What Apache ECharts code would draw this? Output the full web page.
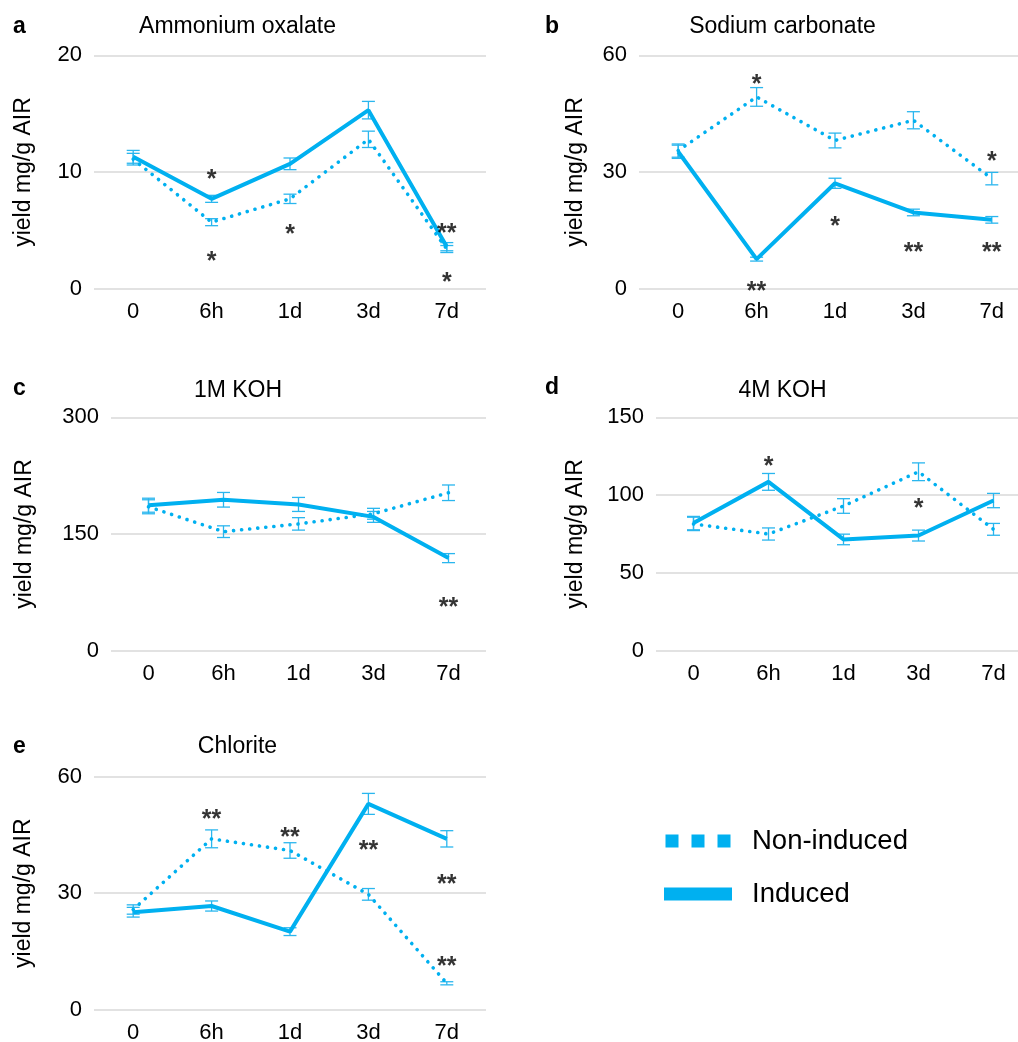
<!DOCTYPE html>
<html><head><meta charset="utf-8">
<script src="https://cdn.jsdelivr.net/npm/echarts@6/dist/echarts.min.js"></script>
<style>html,body{margin:0;padding:0;background:#fff}#c{width:1018px;height:1042px}</style>
</head><body><div id="c"></div>
<script>
// ---------- data ----------
const categories = ['0', '6h', '1d', '3d', '7d'];
const seriesNames = ['Non-induced', 'Induced'];

const aTitle = 'Ammonium oxalate';
const aTicks = [0, 20, 10];
const aInduced = [11.3, 7.7, 10.7, 15.3, 3.6];
const aInducedErr = [0.55, 0.3, 0.5, 0.75, 0.35];
const aNon = [11.1, 5.7, 7.7, 12.8, 3.4];
const aNonErr = [0.5, 0.3, 0.4, 0.7, 0.3];
const aStars = [[1, 9.7, '*'], [1, 2.7, '*'], [2, 5.0, '*'], [4, 5.1, '**'], [4, 0.9, '*']];

const bTitle = 'Sodium carbonate';
const bTicks = [0, 60, 30];
const bInduced = [35.2, 7.6, 27.1, 19.6, 17.7];
const bInducedErr = [1.7, 0.5, 1.3, 0.85, 0.85];
const bNon = [35.5, 49.3, 38.1, 43.3, 28.3];
const bNonErr = [1.7, 2.4, 1.9, 2.2, 1.6];
const bStars = [[1, 53.7, '*'], [1, 0.5, '**'], [2, 17.2, '*'], [3, 10.4, '**'], [4, 33.9, '*'], [4, 10.4, '**']];

const cTitle = '1M KOH';
const cTicks = [0, 300, 150];
const cInduced = [187, 194, 188, 172, 119];
const cInducedErr = [9, 9.4, 9, 7, 5.8];
const cNon = [185, 153, 163, 176, 203];
const cNonErr = [9, 7.5, 8, 7, 10];
const cStars = [[4, 61.7, '**']];

const dTitle = '4M KOH';
const dTicks = [0, 150, 50];
const dInduced = [82, 108.5, 71.5, 74, 96.5];
const dInducedErr = [4.3, 5.4, 3.4, 3.5, 4.6];
const dNon = [81.5, 75, 93, 115, 78];
const dNonErr = [4.3, 3.9, 4.7, 5.7, 3.8];
const dStars = [[1, 121.5, '*'], [3, 94.3, '*']];

const eTitle = 'Chlorite';
const eTicks = [0, 60, 30];
const eInduced = [25.1, 26.7, 20.1, 53, 44];
const eInducedErr = [1.25, 1.3, 1.0, 2.7, 2.1];
const eNon = [25.8, 44, 41, 29.7, 6.8];
const eNonErr = [1.2, 2.3, 2, 1.5, 0.4];
const eStars = [[1, 50, '**'], [2, 45.6, '**'], [3, 42.2, '**'], [4, 33.4, '**'], [4, 12.3, '**']];

const yName = 'yield mg/g AIR';
const panelLetters = ['a', 'b', 'c', 'd', 'e'];

// ---------- layout / style ----------
const FONT = '"Liberation Sans", Arial, Helvetica, sans-serif';
const BLUE = '#00B0F0';
const ERR = '#2ab6ee';
const panels = [
  {letter: panelLetters[0], title: aTitle, ticks: aTicks, ind: aInduced, indE: aInducedErr, non: aNon, nonE: aNonErr, stars: aStars,
   grid: {left: 94, top: 55.3, width: 392, height: 233.4}, nameGap: 59, letterPos: [13, 27], titlePos: [237.5, 27]},
  {letter: panelLetters[1], title: bTitle, ticks: bTicks, ind: bInduced, indE: bInducedErr, non: bNon, nonE: bNonErr, stars: bStars,
   grid: {left: 639, top: 55.3, width: 392, height: 233.4}, nameGap: 52, letterPos: [545, 27], titlePos: [782.5, 27]},
  {letter: panelLetters[2], title: cTitle, ticks: cTicks, ind: cInduced, indE: cInducedErr, non: cNon, nonE: cNonErr, stars: cStars,
   grid: {left: 111, top: 417.3, width: 375, height: 233.4}, nameGap: 75, letterPos: [13, 389], titlePos: [238, 391]},
  {letter: panelLetters[3], title: dTitle, ticks: dTicks, ind: dInduced, indE: dInducedErr, non: dNon, nonE: dNonErr, stars: dStars,
   grid: {left: 656, top: 417.3, width: 375, height: 233.4}, nameGap: 69, letterPos: [545, 388], titlePos: [782.5, 391]},
  {letter: panelLetters[4], title: eTitle, ticks: eTicks, ind: eInduced, indE: eInducedErr, non: eNon, nonE: eNonErr, stars: eStars,
   grid: {left: 94, top: 776.7, width: 392, height: 233}, nameGap: 59, letterPos: [13, 747], titlePos: [237.5, 747]}
];

function errRender(params, api) {
  const x = api.value(0), lo = api.value(1), hi = api.value(2);
  const p1 = api.coord([x, lo]), p2 = api.coord([x, hi]);
  const w = 6.5;
  const style = {stroke: ERR, lineWidth: 1.3, fill: null};
  return {type: 'group', children: [
    {type: 'line', shape: {x1: p1[0], y1: p1[1], x2: p2[0], y2: p2[1]}, style: style},
    {type: 'line', shape: {x1: p1[0] - w, y1: p1[1], x2: p1[0] + w, y2: p1[1]}, style: style},
    {type: 'line', shape: {x1: p2[0] - w, y1: p2[1], x2: p2[0] + w, y2: p2[1]}, style: style}
  ]};
}

const grids = [], xAxes = [], yAxes = [], series = [], graphics = [];
panels.forEach((p, k) => {
  grids.push(Object.assign({outerBoundsMode: 'none', containLabel: false}, p.grid));
  xAxes.push({type: 'category', gridIndex: k, data: categories, boundaryGap: true,
    axisLine: {show: false}, axisTick: {show: false},
    axisLabel: {fontFamily: FONT, fontSize: 22, color: '#000', margin: 12}});
  yAxes.push({type: 'value', gridIndex: k, min: p.ticks[0], max: p.ticks[1], interval: p.ticks[2],
    axisLine: {show: false}, axisTick: {show: false},
    axisLabel: {fontFamily: FONT, fontSize: 22, color: '#000', margin: 12},
    splitLine: {lineStyle: {color: '#d9d9d9', width: 1.5}},
    name: yName, nameLocation: 'middle', nameGap: p.nameGap, nameRotate: 90,
    nameTextStyle: {fontFamily: FONT, fontSize: 23, color: '#000'}});
  const errData = (v, e) => v.map((val, i) => [i, val - e[i], val + e[i]]);
  series.push({type: 'custom', name: 'errNon' + k, xAxisIndex: k, yAxisIndex: k, renderItem: errRender,
    data: errData(p.non, p.nonE), encode: {x: 0, y: [1, 2]}, z: 3, silent: true});
  series.push({type: 'custom', name: 'errInd' + k, xAxisIndex: k, yAxisIndex: k, renderItem: errRender,
    data: errData(p.ind, p.indE), encode: {x: 0, y: [1, 2]}, z: 3, silent: true});
  series.push({type: 'line', name: seriesNames[0], xAxisIndex: k, yAxisIndex: k, data: p.non, symbol: 'none',
    lineStyle: {color: BLUE, width: 3.6, type: [0.1, 8], cap: 'round'}, itemStyle: {color: BLUE}, z: 4});
  series.push({type: 'line', name: seriesNames[1], xAxisIndex: k, yAxisIndex: k, data: p.ind, symbol: 'none',
    lineStyle: {color: BLUE, width: 4}, itemStyle: {color: BLUE}, z: 5});
  series.push({type: 'scatter', name: 'stars' + k, xAxisIndex: k, yAxisIndex: k, data: p.stars,
    symbolSize: 1, itemStyle: {color: 'rgba(0,0,0,0)'}, silent: true, z: 6,
    label: {show: true, position: 'inside', formatter: (q) => q.data[2], fontFamily: FONT, fontSize: 25,
      fontWeight: 'bold', color: '#000', offset: [0, 5]}});
  graphics.push({type: 'text', x: p.letterPos[0], y: p.letterPos[1],
    style: {text: p.letter, font: 'bold 23px ' + FONT, fill: '#000', textAlign: 'left', textVerticalAlign: 'middle'}});
  graphics.push({type: 'text', x: p.titlePos[0], y: p.titlePos[1],
    style: {text: p.title, font: '23px ' + FONT, fill: '#000', textAlign: 'center', textVerticalAlign: 'middle'}});
});

const chart = echarts.init(document.getElementById('c'), null, {renderer: 'canvas'});
chart.setOption({
  backgroundColor: '#fff',
  animation: false,
  grid: grids, xAxis: xAxes, yAxis: yAxes, series: series, graphic: graphics,
  legend: {
    orient: 'vertical', left: 659, top: 821, itemWidth: 68, itemHeight: 13, itemGap: 23,
    selectedMode: false,
    data: [
      {name: seriesNames[0], icon: 'path://M0,0h1v1h-1z M2,0h1v1h-1z M4,0h1v1h-1z'},
      {name: seriesNames[1], icon: 'rect'}
    ],
    itemStyle: {color: BLUE},
    textStyle: {fontFamily: FONT, fontSize: 27.5, color: '#000', lineHeight: 30, padding: [0, 0, 0, 15]}
  }
});
</script></body></html>
